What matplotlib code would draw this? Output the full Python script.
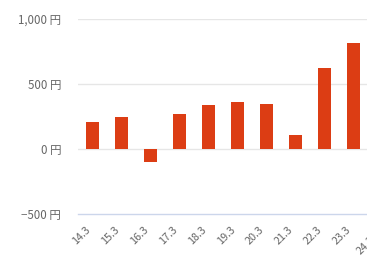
import numpy as np
import matplotlib
matplotlib.use("Agg")
import matplotlib.pyplot as plt
from matplotlib.transforms import ScaledTranslation

plt.rcParams['font.family'] = ['Noto Sans CJK JP', 'DejaVu Sans']

categories = ["14.3", "15.3", "16.3", "17.3", "18.3", "19.3", "20.3", "21.3", "22.3", "23.3", "24.3"]
values = [210, 243, -98, 272, 341, 364, 348, 110, 625, 818, np.nan]
yticks = [-500, 0, 500, 1000]
ytick_labels = ["−500 円", "0 円", "500 円", "1,000 円"]

W, H = 367, 261
fig = plt.figure(figsize=(W / 100, H / 100), dpi=100)
left, right_px = 78, 78 + 29 * len(categories)
top, bottom = 19, 214
ax = fig.add_axes([left / W, (H - bottom) / H, (right_px - left) / W, (bottom - top) / H])

x = np.arange(len(categories))
ax.bar(x, values, width=13 / 29, color="#dc3d14", zorder=3)

ax.set_xlim(-0.5, len(categories) - 0.5)
ax.set_ylim(-500, 1000)
for y in [0, 500, 1000]:
    ax.axhline(y, color="#e6e6e6", lw=1, zorder=1)
ax.axhline(-500, color="#ccd6eb", lw=1, zorder=2, clip_on=False)

for s in ax.spines.values():
    s.set_visible(False)

ax.set_yticks(yticks)
ax.set_yticklabels(ytick_labels)
ax.tick_params(axis='y', length=0, pad=12, labelsize=8.3, labelcolor="#666666")

ax.set_xticks(x)
ax.set_xticklabels(categories, rotation=45, ha='right', va='center', rotation_mode='anchor')
ax.tick_params(axis='x', length=0, pad=10, labelsize=7.8, labelcolor="#666666")
labels = ax.get_xticklabels()
for i, lab in enumerate(labels):
    dx, dy = -4, 0
    if i == len(labels) - 1:
        dx, dy = -9, -10
    lab.set_transform(lab.get_transform() + ScaledTranslation(dx / 100, dy / 100, fig.dpi_scale_trans))

fig.savefig("out.png", dpi=100)
